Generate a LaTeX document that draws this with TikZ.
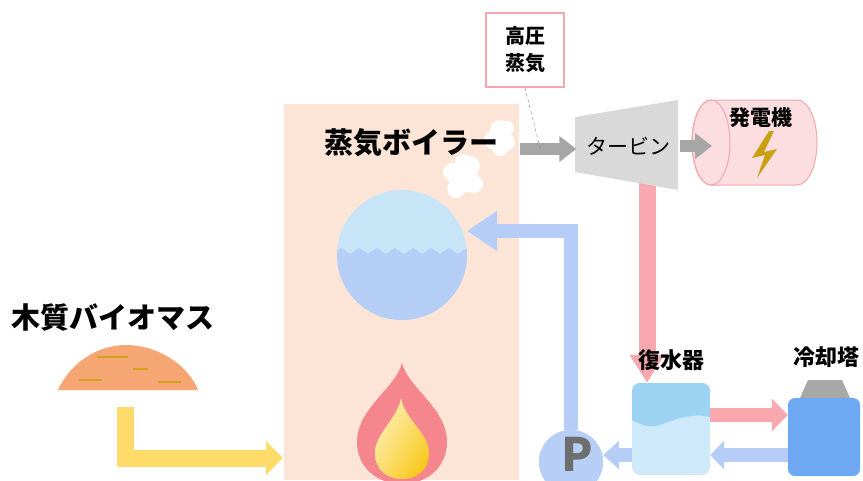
\documentclass[tikz,border=0pt]{standalone}
\usepackage{fontspec}
\usepackage{xcolor}
\usetikzlibrary{arrows.meta,shadings}
\newfontfamily\jp{Noto Sans CJK JP}

\definecolor{boilerbg}{HTML}{FCE4D6}
\definecolor{steamgray}{HTML}{A6A6A6}
\definecolor{turbinegray}{HTML}{D9D9D9}
\definecolor{capgray}{HTML}{A8A8A8}
\definecolor{hotpink}{HTML}{F8A8AE}
\definecolor{waterblue}{HTML}{B5CDF7}
\definecolor{fuelyellow}{HTML}{FFDC6A}
\definecolor{genpink}{HTML}{FCDDE0}
\definecolor{genedge}{HTML}{F3A6AD}
\definecolor{boltgold}{HTML}{C9A012}
\definecolor{pileorange}{HTML}{F5A673}
\definecolor{pilemark}{HTML}{D3A21C}
\definecolor{drumtop}{HTML}{C8E5F8}
\definecolor{drumlow}{HTML}{B4CEF5}
\definecolor{flamepink}{HTML}{F6868E}
\definecolor{flamelight}{HTML}{FFF6C8}
\definecolor{flamemid}{HTML}{FCDD72}
\definecolor{flamegold}{HTML}{F7C200}
\definecolor{condtop}{HTML}{9DD3F2}
\definecolor{condlow}{HTML}{CDE9FA}
\definecolor{towerblue}{HTML}{6EA8F2}
\definecolor{pumpblue}{HTML}{B7CEF6}
\definecolor{pgray}{HTML}{6E6E6E}

\tikzset{
  flow/.style={line width=14pt, line join=miter, -{Triangle[width=30pt,length=18pt]}},
  steam/.style={flow, draw=steamgray, line width=12pt, -{Triangle[width=25pt,length=17pt]}},
  hot/.style={flow, draw=hotpink},
  water/.style={flow, draw=waterblue},
  fuel/.style={flow, draw=fuelyellow, line width=17pt, -{Triangle[width=33pt,length=17pt]}},
  heading/.style={font=\jp\bfseries\fontsize{29}{33}\selectfont},
  tag/.style={font=\jp\bfseries\fontsize{22}{26}\selectfont},
}

\begin{document}
\begin{tikzpicture}[x=1pt,y=-1pt]
\useasboundingbox (0,0) rectangle (863,480);

% boiler housing
\fill[boilerbg] (284,104) rectangle (519,480);

% steam puffs
\fill[white] (500,130) circle (10) (493,140) circle (9) (506,142) circle (9)
             (500,148) circle (8) (507,128) circle (7);
\fill[white] (463,178) circle (15) (452,172) circle (9) (470,166) circle (10)
             (474,184) circle (9) (456,189) circle (9) (463,162) circle (8);
\node[heading] (boiler) at (411,143) {蒸気ボイラー};

% steam drum
\begin{scope}
  \clip (402,255) circle (65);
  \fill[drumtop] (337,190) rectangle (467,320);
  \fill[drumlow] (332,254) \foreach \k in {1,...,8} {-- ++(9,-6) -- ++(9,6)}
        -- (474,330) -- (330,330) -- cycle;
\end{scope}
\node[circle, minimum size=130pt, inner sep=0pt] (drum) at (402,255) {};

% flame
\fill[flamepink] (402,363) .. controls (396,388) and (357,408) .. (357,442)
      .. controls (357,468) and (378,484) .. (402,484)
      .. controls (426,484) and (447,468) .. (447,442)
      .. controls (447,408) and (408,388) .. (402,363) -- cycle;
\shade[upper left=flamelight, upper right=flamemid, lower left=flamemid, lower right=flamegold]
      (401,398) .. controls (397,420) and (375,433) .. (375,453)
      .. controls (375,470) and (387,479) .. (402,479)
      .. controls (417,479) and (429,470) .. (429,453)
      .. controls (429,433) and (405,420) .. (401,398) -- cycle;

% wood biomass
\node[heading] (biomass) at (113,318) {木質バイオマス};
\fill[pileorange] (58,390) .. controls (72,360) and (100,345) .. (126,345)
      .. controls (158,345) and (188,365) .. (198,390) -- cycle;
\draw[pilemark, line width=2pt] (97,357) -- (128,357) (133,369) -- (148,369)
      (79,380) -- (102,380) (158,382) -- (181,382);
\coordinate (pile) at (125,407);
\coordinate (boilerin) at (283,458);
\draw[fuel] (pile) |- (boilerin);

% condenser and cooling tower
\begin{scope}
  \clip[rounded corners=8pt] (632,383) rectangle (710,475);
  \fill[condlow] (632,383) rectangle (710,475);
  \fill[condtop] (632,383) -- (710,383) -- (710,417)
        .. controls (695,413) and (678,418) .. (660,425)
        .. controls (648,429) and (640,424) .. (632,420) -- cycle;
\end{scope}
\node[minimum width=78pt, minimum height=92pt] (condenser) at (671,429) {};

\fill[capgray] (800,398) -- (808,380) -- (842,380) -- (850,398) -- cycle;
\fill[towerblue, rounded corners=7pt] (788,398) rectangle (860,476);
\node[minimum width=72pt, minimum height=78pt] (tower) at (824,437) {};
\node[tag] (towerlabel) at (826,357) {冷却塔};

% feed pump
\node[circle, fill=pumpblue, minimum size=64pt, inner sep=0pt] (pump) at (571,462) {};

% turbine and generator
\coordinate (turbout) at (647,170);
\draw[hot, line width=17pt, -{Triangle[width=33pt,length=28pt]}] (turbout) -- (turbout |- condenser.north);
\node[tag] (condlabel) at (671,360) {復水器};
\fill[turbinegray] (575,117) -- (678,100) -- (678,190) -- (575,172) -- cycle;
\node[font=\jp\fontsize{21}{24}\selectfont, minimum width=103pt, minimum height=55pt] (turbine) at (628,146) {タービン};

\filldraw[fill=genpink, draw=genedge, line width=1pt] (711,100) -- (797,100)
      arc[start angle=-90, end angle=90, x radius=20, y radius=42.5] -- (711,185)
      arc[start angle=90, end angle=270, x radius=19, y radius=42.5] -- cycle;
\draw[genedge, line width=1pt] (711,142.5) ellipse [x radius=19, y radius=42.5];
\node[tag, font=\jp\bfseries\fontsize{21}{24}\selectfont] (gen) at (761,118) {発電機};
\fill[boltgold] (769,131) -- (752,158) -- (765,155) -- (757,178) -- (777,149) -- (764,152) -- (774,131) -- cycle;

\coordinate (boilerout) at (520,149);
\coordinate (genin) at (712,146);
\draw[steam] (boilerout) -- (turbine.west |- boilerout);
\draw[steam] (turbine.east) -- (genin);

\node[draw=genedge, line width=1.5pt, fill=white, minimum width=78pt, minimum height=74pt,
      align=center, font=\jp\bfseries\fontsize{20}{27}\selectfont] (hpsteam) at (525,50) {高圧\\蒸気};
\coordinate (steamtap) at (541,152);
\draw[dashed, gray, thin] (hpsteam.south) -- (steamtap);

% water circuit
\coordinate (hotret) at ([yshift=14pt]condenser.east);
\coordinate (coldin) at ([yshift=-26pt]condenser.east);
\coordinate (drumin) at (467,231);
\draw[hot, -{Triangle[width=32pt,length=16pt]}] (hotret) -- (hotret -| tower.west);
\draw[water, -{Triangle[width=28pt,length=14pt]}] (coldin -| tower.west) -- (coldin);
\draw[water, -{Triangle[width=28pt,length=16pt]}] (coldin -| condenser.west) -- (coldin -| pump.east);
\draw[water, -{Triangle[width=38pt,length=30pt]}] (pump.north) |- (drumin);
\node[circle, fill=pumpblue, minimum size=64pt, inner sep=0pt] at (pump) {};
\node[font=\jp\bfseries\fontsize{46}{46}\selectfont, text=pgray] (pumpP) at (577,454) {P};
\end{tikzpicture}
\end{document}
